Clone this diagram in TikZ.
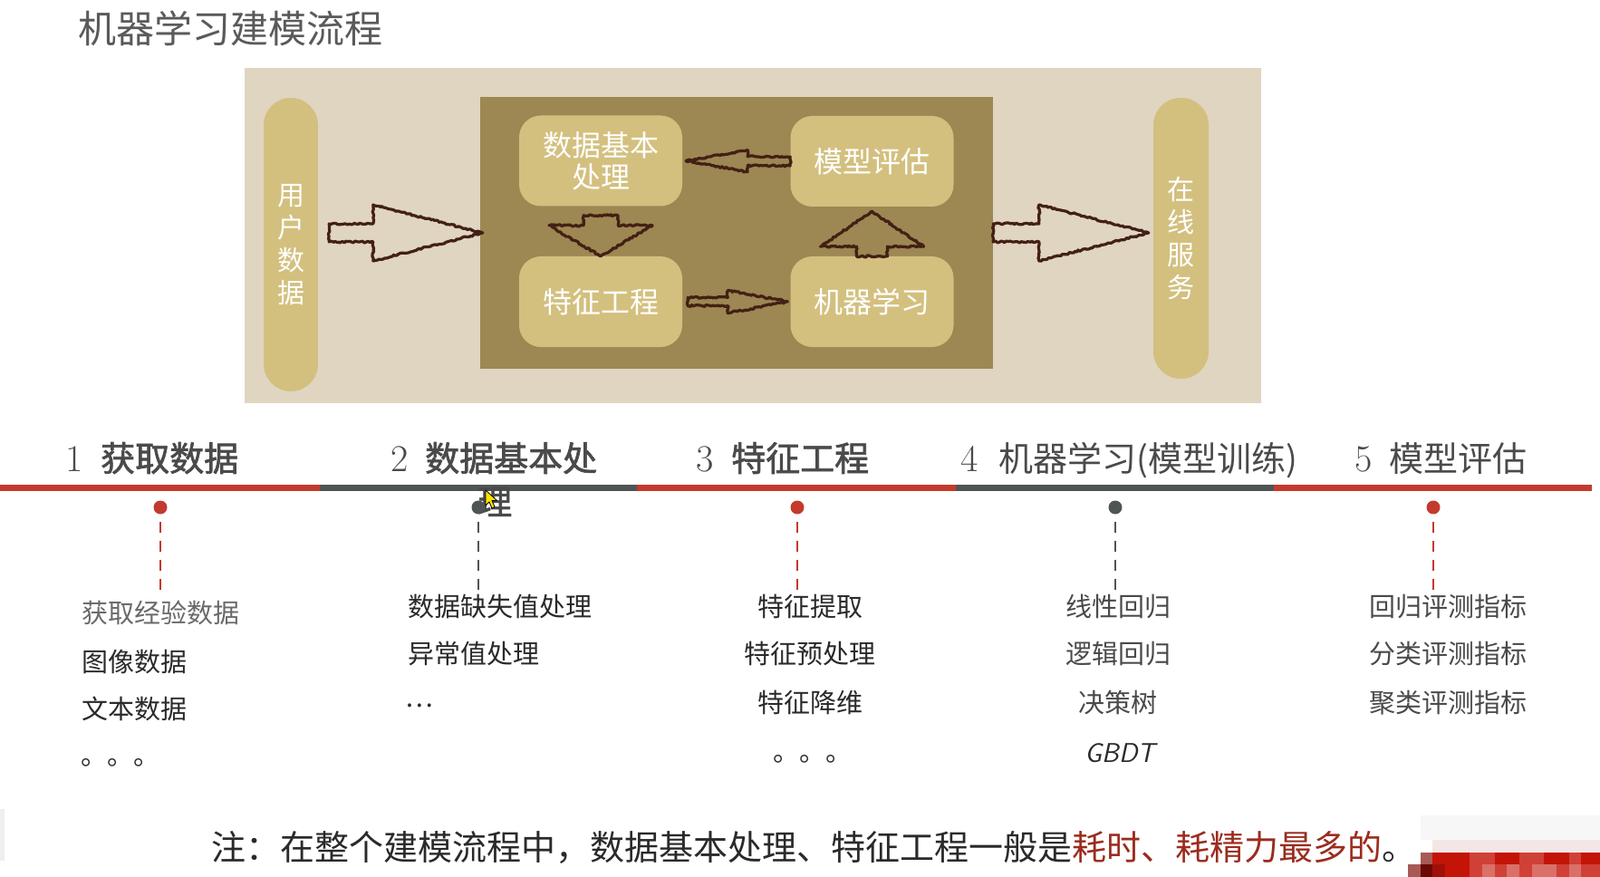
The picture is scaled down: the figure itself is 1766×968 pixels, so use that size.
\documentclass[tikz,border=0pt]{standalone}
\usepackage{fontspec}
\usetikzlibrary{calc,decorations.pathmorphing}
\newfontfamily\cjk{Noto Sans CJK SC}
\newfontfamily\cjkb[FakeBold=1.8]{Noto Sans CJK SC}
\definecolor{paper}{HTML}{E0D5C1}
\definecolor{panelbrown}{HTML}{9D8752}
\definecolor{boxyellow}{HTML}{D3C07F}
\definecolor{sketch}{HTML}{432015}
\definecolor{tlred}{HTML}{C23B2E}
\definecolor{tlgrey}{HTML}{4F5555}
\definecolor{notered}{HTML}{9B2C1E}
\definecolor{titlegrey}{HTML}{5A5A5A}
\definecolor{darktext}{HTML}{2A2A2A}
\definecolor{midtext}{HTML}{4A4A4A}
\definecolor{lighttext}{HTML}{6A6A6A}
\definecolor{pxpink}{HTML}{F5E6E6}
\definecolor{pxa}{HTML}{A85A55}
\definecolor{pxb}{HTML}{C41408}
\definecolor{pxc}{HTML}{D04036}
\definecolor{pxd}{HTML}{6A0A04}
\definecolor{pxe}{HTML}{A01008}
\definecolor{pxf}{HTML}{DA7068}
\definecolor{pxg}{HTML}{EFEFEF}
\newcommand{\blockarrow}[5]{%
  \coordinate (ba-h) at ($(#2)!#5!(#1)$);
  \draw[sketchline] ($(#1)!#3!90:(#2)$) -- ($(ba-h)!#3!90:(#2)$) -- ($(ba-h)!#4!90:(#2)$) -- (#2)
    -- ($(ba-h)!#4!-90:(#2)$) -- ($(ba-h)!#3!-90:(#2)$) -- ($(#1)!#3!-90:(#2)$) -- cycle;}
\begin{document}
\begin{tikzpicture}[x=1pt,y=-1pt,
  sketchline/.style={draw=sketch,line width=3.2pt,line join=round,decorate,
    decoration={random steps,segment length=2pt,amplitude=1pt}},
  stagebox/.style={fill=boxyellow,rounded corners=24pt,inner sep=0,minimum width=180pt,minimum height=100pt,
    text=white,align=center,font={\fontsize{32}{35}\selectfont\cjk}},
  pill/.style={fill=boxyellow,rounded corners=30pt,inner sep=0,minimum width=60pt,
    text=white,align=center,font={\fontsize{30}{36}\selectfont\cjk}},
  digit/.style={anchor=base west,inner sep=0,font={\fontsize{42}{42}\selectfont\rmfamily}},
  headb/.style={anchor=base west,inner sep=0,text=darktext!85!white,font={\fontsize{38}{38}\selectfont\cjkb}},
  headr/.style={anchor=base west,inner sep=0,text=midtext,font={\fontsize{38}{38}\selectfont\cjk}},
  item/.style={inner sep=0,text=darktext,font={\fontsize{29}{29}\selectfont\cjk}},
  itemw/.style={item,anchor=base west},
  itemc/.style={item,anchor=base},
  dotred/.style={circle,fill=tlred,inner sep=0,minimum size=15pt},
  dotgrey/.style={circle,fill=tlgrey,inner sep=0,minimum size=15pt},
  dashred/.style={draw=tlred,line width=2.6pt,dash pattern=on 12pt off 9pt},
  dashgrey/.style={draw=tlgrey,line width=2.6pt,dash pattern=on 12pt off 9pt}]
\useasboundingbox (0,0) rectangle (1766,968);
\fill[white] (0,0) rectangle (1766,968);

% title
\node[anchor=base west,inner sep=0,text=titlegrey,font={\fontsize{42}{42}\selectfont\cjk}] (title) at (86,48) {机器学习建模流程};

% picture panel
\node[fill=paper,inner sep=0,minimum width=1122pt,minimum height=370pt] (photo) at (831,260) {};
\node[fill=panelbrown,inner sep=0,minimum width=566pt,minimum height=300pt] (panel) at (813,257) {};
\node[pill,minimum height=324pt] (pillL) at (321,270) {用\\户\\数\\据};
\node[pill,minimum height=310pt,minimum width=61pt] (pillR) at (1303.5,263) {在\\线\\服\\务};
\node[stagebox] (b1) at (663,177.5) {数据基本\\处理};
\node[stagebox] (b2) at (962.5,178) {模型评估};
\node[stagebox] (b3) at (663,333) {特征工程};
\node[stagebox] (b4) at (962.5,333) {机器学习};

% sketched block arrows
\coordinate (a1s) at ($(pillL.east |- panel.center)+(12,0)$);
\coordinate (a1e) at ($(panel.west)+(3,0)$);
\blockarrow{a1s}{a1e}{10pt}{31pt}{121pt}
\coordinate (a2e) at ($(pillR.west |- panel.center)+(-5,0)$);
\blockarrow{panel.east}{a2e}{10pt}{31pt}{121pt}
\coordinate (a3e) at ($(b1.east)+(4,0)$);
\blockarrow{b2.west}{a3e}{5pt}{12pt}{68pt}
\coordinate (a4s) at ($(b1.south)+(0,10)$);
\blockarrow{a4s}{b3.north}{19pt}{57pt}{34pt}
\coordinate (a5s) at ($(b3.east)+(6,0)$);
\coordinate (a5e) at ($(b4.west)+(-3,0)$);
\blockarrow{a5s}{a5e}{4.5pt}{12.5pt}{66pt}
\coordinate (a6e) at ($(b2.south)+(0,5)$);
\blockarrow{b4.north}{a6e}{17pt}{57pt}{39pt}

% timeline
\draw[tlred,line width=7pt] (0,538) -- (353,538);
\draw[tlgrey,line width=7pt] (353,538) -- (703,538);
\draw[tlred,line width=7pt] (703,538) -- (1055,538);
\draw[tlgrey,line width=7pt] (1055,538) -- (1406,538);
\draw[tlred,line width=7pt] (1406,538) -- (1757,538);

% headings
\node[digit,text=darktext!85!white] (n1) at (72,520) {1};
\node[headb] (h1) at (111,520) {获取数据};
\node[digit,text=darktext!85!white] (n2) at (431,520) {2};
\node[headb] (h2) at (469,520) {数据基本处};
\node[headb] (h2b) at (527,568) {理};
\node[digit,text=darktext!85!white] (n3) at (768,520) {3};
\node[headb] (h3) at (807,520) {特征工程};
\node[digit,text=midtext] (n4) at (1060,520) {4};
\node[headr] (h4) at (1102,520) {机器学习(模型训练)};
\node[digit,text=midtext] (n5) at (1495,520) {5};
\node[headr] (h5) at (1533,520) {模型评估};

% mouse cursor
\draw[fill=yellow!85!orange,draw=black,line width=0.8pt,line join=round]
  (536,541) -- ++(0,17) -- ++(4,-4) -- ++(3,7) -- ++(3,-1.5) -- ++(-3,-7) -- ++(5.5,0) -- cycle;

% dots and dashed leaders
\node[dotred] (d1) at (177,560) {};
\node[dotgrey] (d2) at (528,560) {};
\node[dotred] (d3) at (880,560) {};
\node[dotgrey] (d4) at (1231,560) {};
\node[dotred] (d5) at (1582,560) {};
\coordinate (e1) at (177,657);
\coordinate (e2) at (528,665);
\coordinate (e3) at (880,657);
\coordinate (e4) at (1231,657);
\coordinate (e5) at (1582,657);
\draw[dashred] ([yshift=-8pt]d1.south) -- (e1);
\draw[dashgrey] ([yshift=-8pt]d2.south) -- (e2);
\draw[dashred] ([yshift=-8pt]d3.south) -- (e3);
\draw[dashgrey] ([yshift=-8pt]d4.south) -- (e4);
\draw[dashred] ([yshift=-8pt]d5.south) -- (e5);

% column 1
\node[itemw,text=lighttext] (c1a) at (90,687) {获取经验数据};
\node[itemw] (c1b) at (90,741) {图像数据};
\node[itemw] (c1c) at (90,793) {文本数据};
\node[itemw] (c1d) at (89,844) {。。。};
% column 2
\node[itemw] (c2a) at (450,680) {数据缺失值处理};
\node[itemw] (c2b) at (450,732) {异常值处理};
\node[itemw] (c2c) at (447,780) {…};
% column 3
\node[itemc] (c3a) at (894,680) {特征提取};
\node[itemc] (c3b) at (894,732) {特征预处理};
\node[itemc] (c3c) at (894,786) {特征降维};
\node[itemw] (c3d) at (853,840) {。。。};
% column 4
\node[itemc,text=midtext] (c4a) at (1234,680) {线性回归};
\node[itemc,text=midtext] (c4b) at (1234,732) {逻辑回归};
\node[itemc,text=midtext] (c4c) at (1234,786) {决策树};
\node[anchor=base,inner sep=0,text=darktext,font={\fontsize{30}{30}\selectfont\sffamily\itshape}] (c4d) at (1236,841) {GBDT};
% column 5
\node[itemw,text=midtext] (c5a) at (1511,680) {回归评测指标};
\node[itemw,text=midtext] (c5b) at (1511,732) {分类评测指标};
\node[itemw,text=midtext] (c5c) at (1511,786) {聚类评测指标};

% footnote
\node[anchor=base west,inner sep=0,text=darktext,font={\fontsize{38}{38}\selectfont\cjk}] (note) at (233,949)
  {注：在整个建模流程中，数据基本处理、特征工程一般是\textcolor{notered}{耗时、耗精力最多的}。};

% pixelated corner artifacts
\fill[black!3] (1568,900) rectangle (1766,927);
\fill[pxpink] (1581,927) rectangle (1766,941);
\fill[pxa] (1568,941) rectangle (1581,954);
\fill[pxb] (1581,941) rectangle (1766,954);
\fill[pxc] (1622,941) rectangle (1650,954);
\fill[pxc] (1677,941) rectangle (1704,954);
\fill[pxc] (1732,941) rectangle (1745,954);
\fill[pxa] (1554,954) rectangle (1568,968);
\fill[pxd] (1568,954) rectangle (1581,968);
\fill[pxe] (1581,954) rectangle (1595,968);
\fill[pxb] (1595,954) rectangle (1622,968);
\fill[pxc] (1622,954) rectangle (1766,968);
\fill[pxf] (1636,954) rectangle (1650,968);
\fill[pxf] (1663,954) rectangle (1677,968);
\fill[pxf] (1691,954) rectangle (1718,968);
\fill[pxf] (1732,954) rectangle (1745,968);
\fill[pxg] (0,893) rectangle (5,950);
\end{tikzpicture}
\end{document}
